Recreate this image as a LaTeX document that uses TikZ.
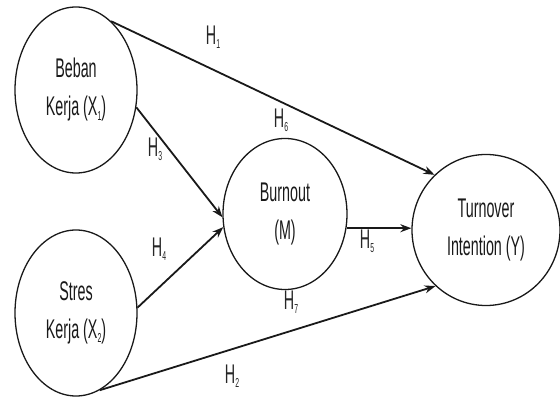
\documentclass[tikz,border=0pt]{standalone}
\usepackage{fontspec}
\setmainfont[FakeStretch=0.53]{Liberation Sans}
\usetikzlibrary{shapes.geometric,arrows.meta}
\newcommand{\hsub}[1]{\raisebox{-0.15em}{\fontsize{13}{13}\selectfont #1}}

\begin{document}
\begin{tikzpicture}[x=1pt,y=-1pt,
  var/.style={draw=black!90,line width=1.3pt,ellipse,inner sep=0pt,align=center,
    font=\fontsize{27}{38}\selectfont,text=black!90},
  lbl/.style={font=\fontsize{27}{27}\selectfont,text=black!85,inner sep=0pt},
  hyp/.style={line width=1.8pt,draw=black!90,-{Stealth[length=11pt,width=8pt]}}]
  \useasboundingbox (0,0) rectangle (560,398);
  \node[var,minimum width=122pt,minimum height=166pt] (x1) at (76,90) {Beban\\Kerja (X\hsub{1})};
  \node[var,minimum width=122pt,minimum height=166pt] (x2) at (76,313) {Stres\\Kerja (X\hsub{2})};
  \node[var,minimum width=124pt,minimum height=151pt] (m) at (285,214) {Burnout\\(M)};
  \node[var,minimum width=148pt,minimum height=151pt] (y) at (486,230) {Turnover\\Intention (Y)};
  \draw[hyp] (x1.63) -- (y.133.5);
  \draw[hyp] (x1.-16) -- (m.183);
  \draw[hyp] (x2.5) -- (m.192);
  \draw[hyp] (m.-13) -- (y.west |- m.-13);
  \draw[hyp] (x2.-73) -- (y.228.5);
  \node[lbl] (h1) at (213,37) {H\hsub{1}};
  \node[lbl] (h2) at (232,376) {H\hsub{2}};
  \node[lbl] (h3) at (155,149) {H\hsub{3}};
  \node[lbl] (h4) at (159,249) {H\hsub{4}};
  \node[lbl] (h5) at (367,241) {H\hsub{5}};
  \node[lbl] (h6) at (281,120) {H\hsub{6}};
  \node[lbl] (h7) at (291,302) {H\hsub{7}};
\end{tikzpicture}
\end{document}
